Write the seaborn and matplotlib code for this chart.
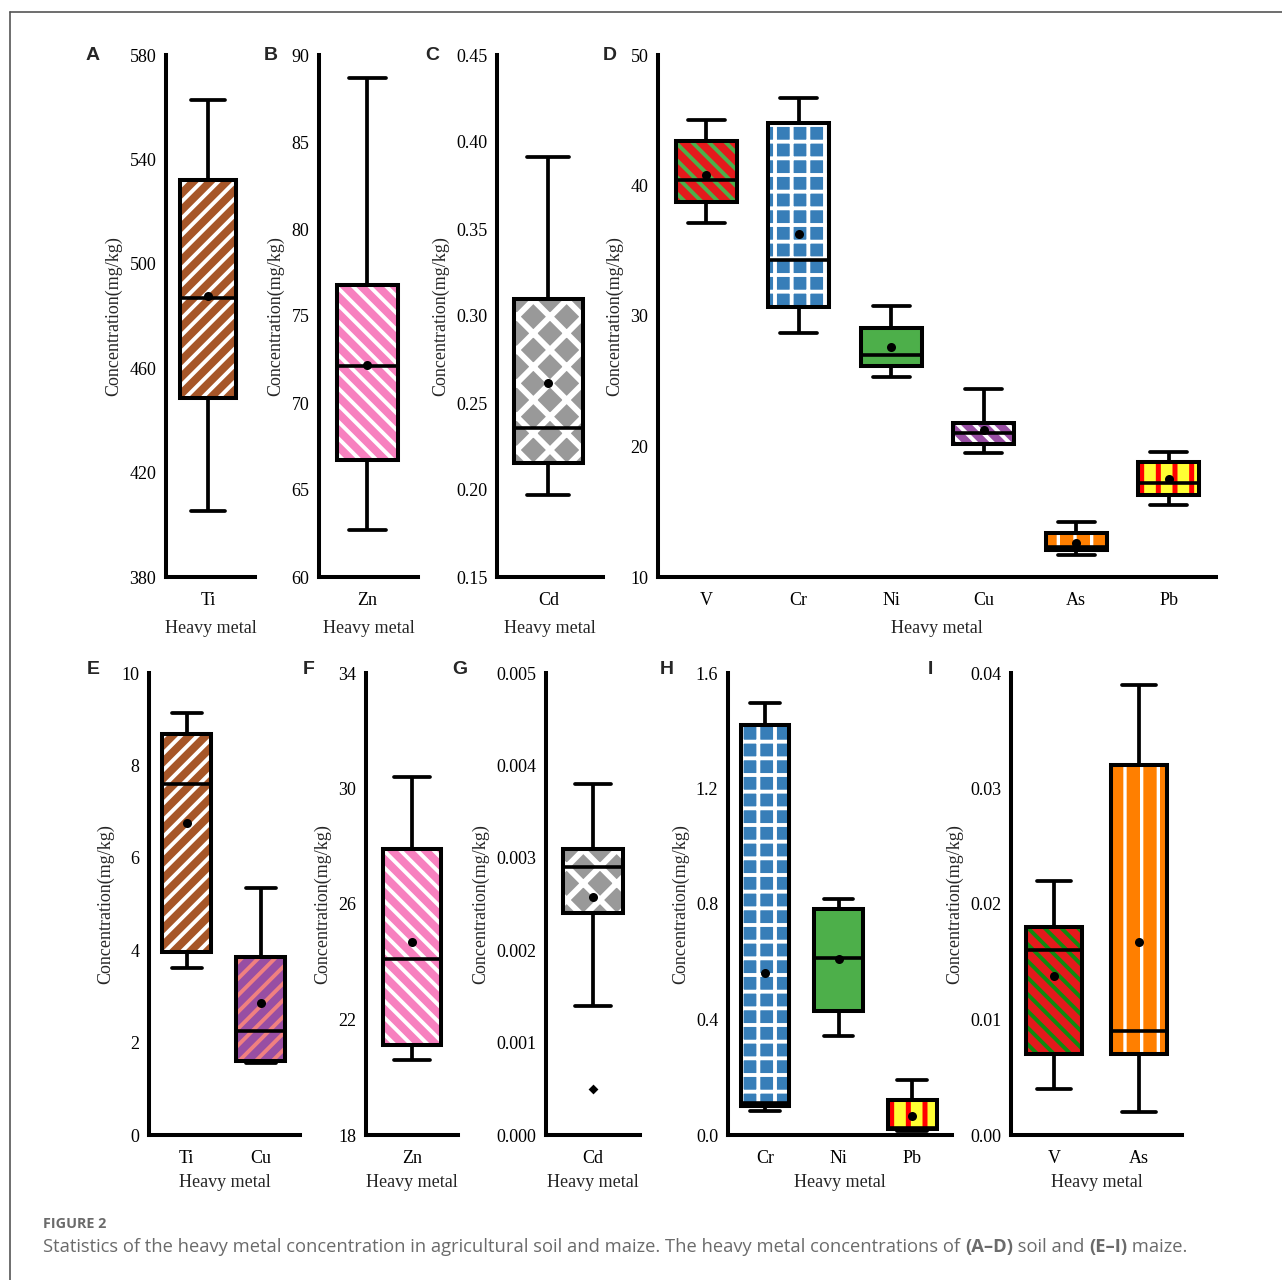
import numpy as np
import pandas as pd
import matplotlib
matplotlib.use("Agg")
import matplotlib.pyplot as plt
from matplotlib.patches import PathPatch
from matplotlib.lines import Line2D
import seaborn as sns

# ---------------- data: five-number summaries and means (mg/kg) ----------------
# (A) soil Ti
a_metals = ["Ti"]
a_min, a_q1, a_med, a_q3, a_max = [405.4], [448.5], [487.0], [532.0], [562.7]
a_mean = [487.7]
a_ticks = [380, 420, 460, 500, 540, 580]

# (B) soil Zn
b_metals = ["Zn"]
b_min, b_q1, b_med, b_q3, b_max = [62.7], [66.7], [72.1], [76.8], [88.7]
b_mean = [72.2]
b_ticks = [60, 65, 70, 75, 80, 85, 90]

# (C) soil Cd
c_metals = ["Cd"]
c_min, c_q1, c_med, c_q3, c_max = [0.197], [0.2155], [0.2356], [0.310], [0.3914]
c_mean = [0.2615]
c_ticks = [0.15, 0.20, 0.25, 0.30, 0.35, 0.40, 0.45]

# (D) soil V, Cr, Ni, Cu, As, Pb
d_metals = ["V", "Cr", "Ni", "Cu", "As", "Pb"]
d_min = [37.1, 28.7, 25.3, 19.5, 11.7, 15.5]
d_q1 = [38.7, 30.7, 26.2, 20.2, 12.1, 16.3]
d_med = [40.4, 34.3, 27.0, 21.0, 12.3, 17.2]
d_q3 = [43.4, 44.8, 29.1, 21.8, 13.4, 18.8]
d_max = [45.0, 46.7, 30.8, 24.4, 14.2, 19.6]
d_mean = [40.8, 36.3, 27.6, 21.3, 12.6, 17.5]
d_ticks = [10, 20, 30, 40, 50]

# (E) maize Ti, Cu
e_metals = ["Ti", "Cu"]
e_min, e_q1, e_med = [3.62, 1.56], [3.97, 1.61], [7.59, 2.26]
e_q3, e_max = [8.68, 3.86], [9.13, 5.34]
e_mean = [6.75, 2.86]
e_ticks = [0, 2, 4, 6, 8, 10]

# (F) maize Zn
f_metals = ["Zn"]
f_min, f_q1, f_med, f_q3, f_max = [20.6], [21.1], [24.1], [27.9], [30.4]
f_mean = [24.7]
f_ticks = [18, 22, 26, 30, 34]

# (G) maize Cd
g_metals = ["Cd"]
g_min, g_q1, g_med, g_q3, g_max = [0.0014], [0.0024], [0.0029], [0.0031], [0.0038]
g_mean = [0.00258]
g_outlier = [0.0005]
g_ticks = [0.000, 0.001, 0.002, 0.003, 0.004, 0.005]

# (H) maize Cr, Ni, Pb
h_metals = ["Cr", "Ni", "Pb"]
h_min = [0.083, 0.344, 0.015]
h_q1 = [0.100, 0.430, 0.020]
h_med = [0.110, 0.612, 0.025]
h_q3 = [1.420, 0.783, 0.122]
h_max = [1.495, 0.817, 0.190]
h_mean = [0.56, 0.61, 0.066]
h_ticks = [0.0, 0.4, 0.8, 1.2, 1.6]

# (I) maize V, As
i_metals = ["V", "As"]
i_min, i_q1, i_med = [0.004, 0.002], [0.007, 0.007], [0.016, 0.009]
i_q3, i_max = [0.018, 0.032], [0.022, 0.039]
i_mean = [0.0138, 0.0167]
i_ticks = [0.00, 0.01, 0.02, 0.03, 0.04]

# ---------------- per-metal fill / hatch styling ----------------
SET1 = {"red": "#E41A1C", "blue": "#377EB8", "green": "#4DAF4A", "purple": "#984EA3",
        "orange": "#FF7F00", "yellow": "#FFFF33", "brown": "#A65628", "pink": "#F781BF",
        "gray": "#999999"}
# metal -> (fill colour, hatch pattern, hatch colour, hatch line width in pt)
STYLE = {
    "Ti": (SET1["brown"], "//", "white", 2.8),
    "Zn": (SET1["pink"], "\\\\", "white", 2.8),
    "Cd": (SET1["gray"], "x", "white", 4.2),
    "V": (SET1["red"], "\\\\", SET1["green"], 2.8),
    "Cr": (SET1["blue"], "+", "white", 2.8),
    "Ni": (SET1["green"], None, None, 2.8),
    "Cu": (SET1["purple"], "\\\\", "white", 2.8),
    "As": (SET1["orange"], "|", "white", 2.4),
    "Pb": (SET1["yellow"], "|", "#FF0000", 3.6),
}
STYLE_OVERRIDE = {("E", "Cu"): (SET1["purple"], "//", "#F08080", 2.8),
                  ("I", "V"): (SET1["red"], "\\\\", "#108A10", 2.8)}

sns.set_style("white")
plt.rcParams.update({
    "font.family": ["Liberation Serif", "DejaVu Serif"],
    "axes.linewidth": 2.9,
    "xtick.direction": "in",
    "ytick.direction": "in",
    "xtick.major.size": 8.5,
    "ytick.major.size": 8.5,
    "xtick.major.width": 2.6,
    "ytick.major.width": 2.6,
    "xtick.major.pad": 11,
    "ytick.major.pad": 7,
    "xtick.labelsize": 13,
    "ytick.labelsize": 13,
    "axes.labelsize": 13,
    "hatch.linewidth": 2.8,
    "xtick.color": "black",
    "ytick.color": "black",
    "axes.edgecolor": "black",
})

W, H = 1282, 1280
fig = plt.figure(figsize=(W / 100, H / 100), dpi=100, facecolor="white")

BOX_W = 0.66
LW = 2.9


def add_axes_px(left, right, top, bottom):
    return fig.add_axes([left / W, 1 - bottom / H, (right - left) / W, (bottom - top) / H])


def draw_panel(key, rect, metals, mins, q1, med, q3, maxs, means, ticks, fmt, xlim,
               outliers=None, xlabelpad=8):
    ax = add_axes_px(*rect)
    values = np.column_stack([mins, q1, med, q3, maxs]).ravel()
    df = pd.DataFrame({"metal": np.repeat(metals, 5), "value": values})
    sns.boxplot(data=df, x="metal", y="value", order=metals, whis=(0, 100),
                width=BOX_W, showfliers=False, color="white", linecolor="black",
                linewidth=LW, ax=ax)
    cont = [c for c in ax.containers if hasattr(c, "boxes")][0]
    for i, box in enumerate(cont.boxes):
        fill, hatch, hcol, hlw = STYLE_OVERRIDE.get((key, metals[i]), STYLE[metals[i]])
        box.set_facecolor(fill)
        box.set_edgecolor(hcol if hcol else fill)
        if hasattr(box, "set_hatchcolor") and hcol:
            box.set_hatchcolor(hcol)
        if hasattr(box, "set_hatch_linewidth"):
            box.set_hatch_linewidth(hlw)
        box.set_linewidth(0)
        box.set_hatch(hatch)
        box.set_zorder(2)
        outline = PathPatch(box.get_path(), transform=ax.transData, facecolor="none",
                            edgecolor="black", linewidth=LW, zorder=2.6,
                            joinstyle="miter")
        ax.add_patch(outline)
    for ln in list(cont.whiskers) + list(cont.caps):
        ln.set_color("black")
        ln.set_linewidth(2.7)
        ln.set_zorder(2.2)
    for ln in cont.caps:
        xs = ln.get_xdata()
        c = float(np.mean(xs))
        ln.set_xdata([c - 0.2, c + 0.2])
    for ln in cont.medians:
        ln.set_color("black")
        ln.set_linewidth(2.6)
        ln.set_zorder(2.8)
    sns.stripplot(x=metals, y=means, order=metals, jitter=False, color="black",
                  size=6.5, linewidth=0, ax=ax, zorder=4)
    if outliers is not None:
        sns.stripplot(x=metals, y=outliers, order=metals, jitter=False, color="black",
                      marker="D", size=5, linewidth=0, ax=ax, zorder=4)
    ax.set_ylim(ticks[0], ticks[-1])
    ax.set_yticks(ticks)
    ax.set_yticklabels([fmt.format(t) for t in ticks])
    ax.set_xlim(*xlim)
    ax.set_xticks(range(len(metals)))
    ax.set_xticklabels(metals)
    ax.set_xlabel("Heavy metal", labelpad=xlabelpad)
    ax.set_ylabel("Concentration(mg/kg)", labelpad=5)
    ax.set_facecolor("none")
    sns.despine(ax=ax)
    for sp in ax.spines.values():
        sp.set_capstyle("projecting")
    return ax


TOP = (55, 577)
BOT = (673, 1135)
draw_panel("A", (166, 255, *TOP), a_metals, a_min, a_q1, a_med, a_q3, a_max, a_mean,
           a_ticks, "{:.0f}", (-0.49, 0.55))
draw_panel("B", (319, 418, *TOP), b_metals, b_min, b_q1, b_med, b_q3, b_max, b_mean,
           b_ticks, "{:.0f}", (-0.52, 0.55))
draw_panel("C", (497, 603, *TOP), c_metals, c_min, c_q1, c_med, c_q3, c_max, c_mean,
           c_ticks, "{:.2f}", (-0.49, 0.52))
draw_panel("D", (658, 1216, *TOP), d_metals, d_min, d_q1, d_med, d_q3, d_max, d_mean,
           d_ticks, "{:.0f}", (-0.52, 5.51))
draw_panel("E", (149, 300, *BOT), e_metals, e_min, e_q1, e_med, e_q3, e_max, e_mean,
           e_ticks, "{:.0f}", (-0.51, 1.53), xlabelpad=5)
draw_panel("F", (366, 458, *BOT), f_metals, f_min, f_q1, f_med, f_q3, f_max, f_mean,
           f_ticks, "{:.0f}", (-0.52, 0.52), xlabelpad=5)
draw_panel("G", (546, 640, *BOT), g_metals, g_min, g_q1, g_med, g_q3, g_max, g_mean,
           g_ticks, "{:.3f}", (-0.52, 0.52), outliers=g_outlier, xlabelpad=5)
draw_panel("H", (728, 952, *BOT), h_metals, h_min, h_q1, h_med, h_q3, h_max, h_mean,
           h_ticks, "{:.1f}", (-0.50, 2.54), xlabelpad=5)
draw_panel("I", (1011, 1182, *BOT), i_metals, i_min, i_q1, i_med, i_q3, i_max, i_mean,
           i_ticks, "{:.2f}", (-0.51, 1.51), xlabelpad=5)

# panel letters
letters = {"A": (93, 55), "B": (271, 55), "C": (432, 55), "D": (610, 55),
           "E": (93, 669), "F": (309, 669), "G": (460, 669), "H": (667, 669),
           "I": (930, 669)}
for letter, (x, y) in letters.items():
    fig.text(x / W, 1 - y / H, letter, ha="center", va="center", fontsize=14,
             fontweight="bold", family=["Liberation Sans", "DejaVu Sans"])

# outer frame
fig.add_artist(Line2D([10 / W, 1.0], [1 - 12 / H, 1 - 12 / H], transform=fig.transFigure,
                      color="#555555", linewidth=1.2))
fig.add_artist(Line2D([10 / W, 10 / W], [0.0, 1 - 12 / H], transform=fig.transFigure,
                      color="#555555", linewidth=1.2))

# caption
cap_family = ["Open Sans", "DejaVu Sans"]
fig.text(43 / W, 1 - 1224 / H, "FIGURE 2", ha="left", va="center", fontsize=10.4,
         fontweight="bold", color="#6b6b6b", family=cap_family)
pieces = [
    ("Statistics of the heavy metal concentration in agricultural soil and maize. "
     "The heavy metal concentrations of ", "normal"),
    ("(A\u2013D)", "bold"), (" soil and ", "normal"), ("(E\u2013I)", "bold"),
    (" maize.", "normal"),
]
renderer = fig.canvas.get_renderer()
x_px = 43.0
for txt, weight in pieces:
    t = fig.text(x_px / W, 1 - 1247 / H, txt, ha="left", va="center", fontsize=13.2,
                 fontweight=weight, color="#6b6b6b", family=cap_family)
    bb = t.get_window_extent(renderer=renderer)
    x_px += bb.width

fig.savefig("out.png", dpi=100, facecolor="white")
